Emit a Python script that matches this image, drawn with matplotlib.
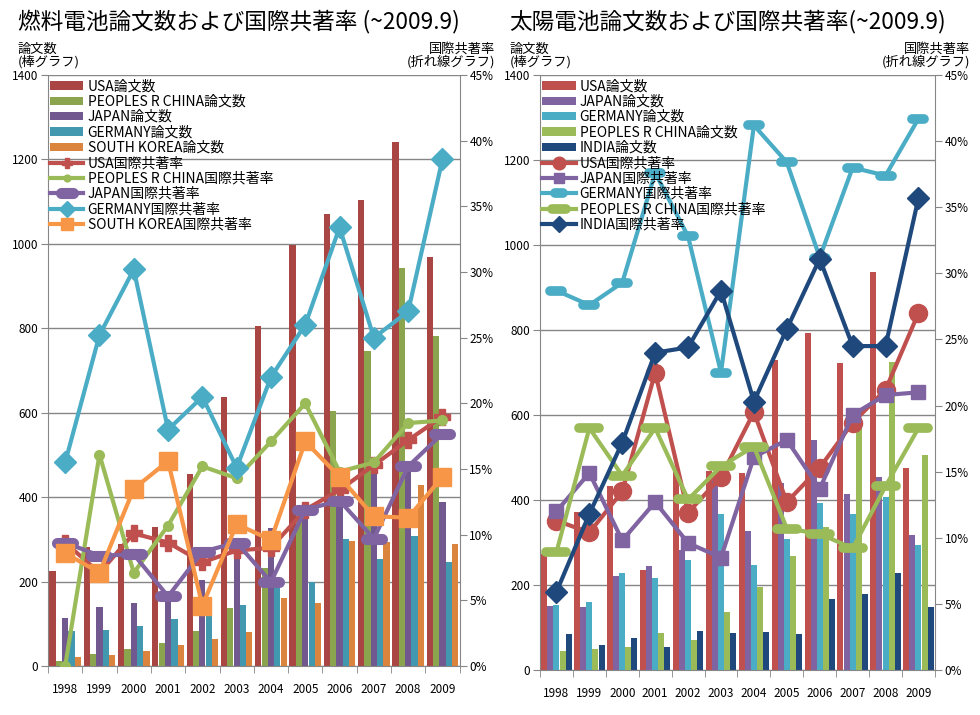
import matplotlib
matplotlib.use('Agg')
import matplotlib.pyplot as plt
import numpy as np
from matplotlib.markers import MarkerStyle
from matplotlib.ticker import FuncFormatter

plt.rcParams['font.family'] = ['Noto Sans CJK JP', 'DejaVu Sans']

years = ['1998', '1999', '2000', '2001', '2002', '2003',
         '2004', '2005', '2006', '2007', '2008', '2009']

# --- 燃料電池 (左) ---
fc_countries = ['USA', 'PEOPLES R CHINA', 'JAPAN', 'GERMANY', 'SOUTH KOREA']
fc_usa_papers = [225, 282, 290, 330, 455, 638, 805, 998, 1072, 1105, 1241, 968]
fc_chn_papers = [12, 28, 40, 55, 83, 137, 232, 370, 603, 747, 942, 783]
fc_jpn_papers = [114, 140, 150, 168, 204, 290, 327, 385, 400, 455, 484, 389]
fc_ger_papers = [83, 85, 95, 111, 130, 145, 197, 199, 301, 254, 308, 247]
fc_kor_papers = [21, 26, 36, 50, 64, 81, 161, 149, 297, 294, 429, 289]

fc_usa_rate = [9.4, 7.1, 10.1, 9.4, 7.9, 8.8, 9.0, 11.9, 13.4, 15.3, 17.2, 19.0]
fc_chn_rate = [0.0, 16.1, 7.1, 10.7, 15.2, 14.3, 17.1, 20.0, 14.8, 15.5, 18.5, 18.7]
fc_jpn_rate = [9.4, 8.4, 8.5, 5.3, 8.7, 9.4, 6.4, 11.9, 12.6, 9.7, 15.2, 17.7]
fc_ger_rate = [15.5, 25.2, 30.2, 18.0, 20.5, 15.1, 22.0, 26.0, 33.4, 25.0, 27.0, 38.6]
fc_kor_rate = [8.6, 7.1, 13.5, 15.6, 4.6, 10.8, 9.6, 17.1, 14.4, 11.4, 11.3, 14.4]

# --- 太陽電池 (右) ---
pv_countries = ['USA', 'JAPAN', 'GERMANY', 'PEOPLES R CHINA', 'INDIA']
pv_usa_papers = [273, 372, 433, 235, 470, 468, 463, 730, 793, 722, 936, 475]
pv_jpn_papers = [151, 148, 221, 245, 282, 447, 327, 440, 541, 414, 454, 318]
pv_ger_papers = [153, 160, 228, 216, 259, 367, 247, 308, 393, 367, 407, 294]
pv_chn_papers = [45, 49, 54, 87, 71, 136, 195, 268, 336, 580, 725, 506]
pv_ind_papers = [85, 59, 75, 54, 92, 87, 89, 85, 167, 179, 228, 148]

pv_usa_rate = [11.3, 10.4, 13.5, 22.5, 11.9, 14.6, 19.5, 12.7, 15.3, 18.7, 21.2, 27.0]
pv_jpn_rate = [12.0, 14.9, 9.8, 12.7, 9.6, 8.5, 16.1, 17.4, 13.7, 19.3, 20.8, 21.0]
pv_ger_rate = [28.7, 27.6, 29.3, 37.6, 32.8, 22.5, 41.2, 38.4, 31.2, 38.0, 37.4, 41.7]
pv_chn_rate = [8.9, 18.3, 14.7, 18.3, 12.9, 15.4, 16.9, 10.7, 10.3, 9.2, 13.9, 18.3]
pv_ind_rate = [5.9, 11.8, 17.2, 24.0, 24.4, 28.7, 20.3, 25.8, 31.1, 24.5, 24.5, 35.7]

# 横長のカプセル型マーカー
capsule = MarkerStyle('_', capstyle='round')

grid_color = '#868686'


def draw_panel(rect, title, countries, papers, rates, bar_colors, line_colors, markers):
    ax = fig.add_axes(rect)
    x = np.arange(len(years))
    n = len(papers)
    w = 0.185
    for i in range(n):
        ax.bar(x + (i - (n - 1) / 2) * w, papers[i], width=w * 0.98,
               color=bar_colors[i], label=countries[i] + '論文数', zorder=2)
    ax.set_xlim(-0.5, len(years) - 0.5)
    ax.set_ylim(0, 1400)
    ax.set_yticks(np.arange(0, 1401, 200))
    ax.yaxis.grid(True, color=grid_color, linewidth=1)
    ax.set_axisbelow(True)
    ax.set_xticks(x)
    ax.set_xticklabels(years, fontsize=8.5)
    ax.set_xticks(np.arange(-0.5, len(years)), minor=True)
    ax.tick_params(axis='x', which='major', length=0, pad=12)
    ax.tick_params(axis='x', which='minor', length=5, color=grid_color)
    ax.tick_params(axis='y', length=5, color=grid_color, labelsize=8.5, pad=2)
    for s in ['top', 'right']:
        ax.spines[s].set_visible(False)
    for s in ['left', 'bottom']:
        ax.spines[s].set_color(grid_color)

    ax2 = ax.twinx()
    for i in range(n):
        mk, ms, mew = markers[i]
        ax2.plot(x, np.array(rates[i]) / 100, color=line_colors[i], linewidth=3,
                 marker=mk, markersize=ms, markeredgewidth=mew,
                 markeredgecolor=line_colors[i], markerfacecolor=line_colors[i],
                 label=countries[i] + '国際共著率', zorder=3)
    ax2.set_ylim(0, 0.45)
    ax2.set_yticks(np.arange(0, 0.451, 0.05))
    ax2.yaxis.set_major_formatter(FuncFormatter(lambda v, p: f'{v * 100:.0f}%'))
    ax2.tick_params(axis='y', length=5, color=grid_color, labelsize=8.5, pad=2)
    for s in ['top', 'left', 'bottom']:
        ax2.spines[s].set_visible(False)
    ax2.spines['right'].set_color(grid_color)

    h1, l1 = ax.get_legend_handles_labels()
    h2, l2 = ax2.get_legend_handles_labels()
    ax2.legend(h1 + h2, l1 + l2, loc='upper left', bbox_to_anchor=(-0.005, 1.0),
               frameon=False, fontsize=10, labelspacing=0.1, handlelength=2.4,
               handleheight=0.55, handletextpad=0.3, borderpad=0.2, borderaxespad=0.1,
               markerscale=0.7)

    # タイトルと軸ラベル
    left, bottom, width, height = rect
    fig.text(left - 0.031, 0.97, title, fontsize=16.3, ha='left', va='center')
    fig.text(left - 0.031, 0.904, '論文数\n(棒グラフ)', fontsize=9.5, ha='left',
             va='bottom', linespacing=0.95)
    fig.text(left + width + 0.036, 0.904, '国際共著率\n(折れ線グラフ)', fontsize=9.5,
             ha='right', va='bottom', linespacing=0.95)
    return ax, ax2


fig = plt.figure(figsize=(9.8, 7.15), dpi=100)

# 左: 燃料電池
draw_panel([0.049, 0.0685, 0.42, 0.8265],
           '燃料電池論文数および国際共著率 (~2009.9)',
           fc_countries,
           [fc_usa_papers, fc_chn_papers, fc_jpn_papers, fc_ger_papers, fc_kor_papers],
           [fc_usa_rate, fc_chn_rate, fc_jpn_rate, fc_ger_rate, fc_kor_rate],
           ['#A94643', '#8AA54E', '#71588F', '#4198AF', '#DB843D'],
           ['#C0504D', '#9BBB59', '#8064A2', '#4BACC6', '#F79646'],
           [('P', 11, 1), ('o', 7, 1), (capsule, 12, 8), ('D', 11, 1), ('s', 13, 1)])

# 右: 太陽電池
draw_panel([0.551, 0.063, 0.403, 0.832],
           '太陽電池論文数および国際共著率(~2009.9)',
           pv_countries,
           [pv_usa_papers, pv_jpn_papers, pv_ger_papers, pv_chn_papers, pv_ind_papers],
           [pv_usa_rate, pv_jpn_rate, pv_ger_rate, pv_chn_rate, pv_ind_rate],
           ['#C0504D', '#8064A2', '#4BACC6', '#9BBB59', '#1F497D'],
           ['#C0504D', '#8064A2', '#4BACC6', '#9BBB59', '#1F497D'],
           [('o', 13, 1), ('s', 10, 1), (capsule, 9, 7), (capsule, 14, 7), ('D', 11, 1)])

plt.savefig('out.png', dpi=100)
